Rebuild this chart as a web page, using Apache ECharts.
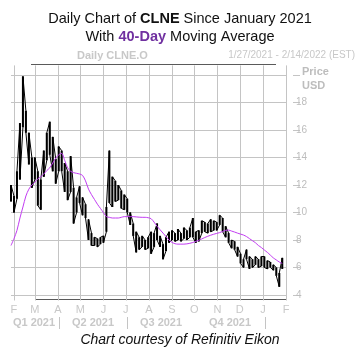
<!DOCTYPE html>
<html>
<head>
<meta charset="utf-8">
<title>CLNE daily chart</title>
<script src="https://cdn.jsdelivr.net/npm/echarts@6/dist/echarts.min.js"></script>
<style>
  html, body { margin: 0; padding: 0; background: #fff; }
  #main { width: 360px; height: 353px; }
</style>
</head>
<body>
<div id="main"></div>
<script>
// sampled trading dates (every 4 days), with the day's low / high and the 40-day MA
var dates = [
  '2021-01-28','2021-02-01','2021-02-05','2021-02-09','2021-02-13','2021-02-17','2021-02-21','2021-02-25',
  '2021-03-01','2021-03-05','2021-03-09','2021-03-13','2021-03-17','2021-03-21','2021-03-25','2021-03-29',
  '2021-04-02','2021-04-06','2021-04-10','2021-04-14','2021-04-18','2021-04-22','2021-04-26','2021-04-30',
  '2021-05-04','2021-05-08','2021-05-12','2021-05-16','2021-05-20','2021-05-24','2021-05-28',
  '2021-06-01','2021-06-05','2021-06-09','2021-06-13','2021-06-17','2021-06-21','2021-06-25','2021-06-29',
  '2021-07-03','2021-07-07','2021-07-11','2021-07-15','2021-07-19','2021-07-23','2021-07-27','2021-07-31',
  '2021-08-04','2021-08-08','2021-08-12','2021-08-16','2021-08-20','2021-08-24','2021-08-28',
  '2021-09-01','2021-09-05','2021-09-09','2021-09-13','2021-09-17','2021-09-21','2021-09-25','2021-09-29',
  '2021-10-03','2021-10-07','2021-10-11','2021-10-15','2021-10-19','2021-10-23','2021-10-27','2021-10-31',
  '2021-11-04','2021-11-08','2021-11-12','2021-11-16','2021-11-20','2021-11-24','2021-11-28',
  '2021-12-02','2021-12-06','2021-12-10','2021-12-14','2021-12-18','2021-12-22','2021-12-26','2021-12-30',
  '2022-01-03','2022-01-07','2022-01-11','2022-01-15','2022-01-19','2022-01-23','2022-01-27'
];
var lows = [
  10.8, 10.0, 11.0, 12.4, 16.2, 15.8, 13.5, 11.8,
  12.4, 10.5, 10.2, 12.6, 13.8, 14.2, 13.0, 12.1,
  13.0, 13.0, 11.5, 10.9, 11.5, 9.2, 10.0, 10.7,
  9.8, 9.6, 8.0, 7.6, 7.6, 7.5, 7.7,
  7.8, 8.6, 10.7, 10.4, 10.8, 10.9, 10.3, 10.2,
  10.0, 9.1, 8.3, 7.1, 7.3, 7.5, 7.3, 7.4,
  7.0, 7.5, 8.0, 7.5, 6.6, 7.2, 7.8,
  8.0, 7.9, 8.0, 7.9, 8.1, 8.0, 8.2, 8.2,
  7.8, 7.9, 8.5, 8.6, 8.5, 8.6, 8.7, 8.7,
  9.1, 8.6, 8.2, 7.8, 7.4, 7.3, 6.8,
  6.3, 6.0, 6.6, 5.9, 6.0, 6.2, 6.0, 6.1,
  6.0, 5.9, 6.0, 5.8, 5.4, 4.6, 5.9
];
var highs = [
  12.0, 11.2, 13.0, 16.5, 19.9, 17.4, 15.8, 14.0,
  14.0, 13.0, 12.4, 14.5, 15.8, 16.6, 15.5, 13.9,
  14.8, 14.5, 13.6, 13.0, 14.1, 11.8, 11.1, 11.9,
  11.1, 10.6, 9.5, 8.5, 8.2, 8.1, 8.2,
  8.3, 10.4, 14.5, 12.6, 12.3, 12.0, 11.6, 11.3,
  11.0, 10.0, 9.2, 8.6, 8.2, 8.3, 8.0, 8.2,
  8.6, 8.5, 9.2, 8.3, 7.7, 8.2, 8.6,
  8.7, 8.5, 8.8, 8.5, 8.9, 8.7, 8.9, 9.6,
  8.6, 8.7, 9.4, 9.3, 9.2, 9.5, 9.4, 9.3,
  9.8, 9.6, 9.0, 8.5, 8.0, 7.9, 7.5,
  7.0, 6.6, 7.3, 6.8, 6.6, 6.8, 6.6, 6.8,
  6.8, 6.5, 6.4, 6.2, 6.0, 5.6, 6.7
];
var ma40 = [
  7.6, 8.1, 8.7, 9.6, 10.4, 11.2, 11.7, 12.0,
  12.2, 12.45, 12.6, 12.8, 13.05, 13.25, 13.6, 13.95,
  14.2, 14.3, 13.8, 13.25, 13.0, 12.9, 12.85, 12.8,
  12.7, 12.3, 11.7, 11.3, 10.95, 10.6, 10.3,
  10.0, 9.7, 9.65, 9.6, 9.6, 9.6, 9.65, 9.7,
  9.7, 9.7, 9.7, 9.68, 9.66, 9.65, 9.65, 9.62,
  9.55, 9.3, 9.0, 8.75, 8.5, 8.25, 8.0,
  7.83, 7.73, 7.7, 7.7, 7.7, 7.72, 7.76, 7.82,
  7.9, 7.98, 8.08, 8.18, 8.27, 8.35, 8.42, 8.48,
  8.54, 8.62, 8.7, 8.72, 8.65, 8.58, 8.5,
  8.43, 8.36, 8.25, 8.1, 7.95, 7.8, 7.6, 7.45,
  7.27, 7.1, 6.9, 6.7, 6.55, 6.4, 6.3
];
var monthTicks = [
  '2021-02-01','2021-03-01','2021-04-01','2021-05-01','2021-06-01','2021-07-01','2021-08-01',
  '2021-09-01','2021-10-01','2021-11-01','2021-12-01','2022-01-01','2022-02-01'
];
var priceTicks = [4, 6, 8, 10, 12, 14, 16, 18, 20];
var priceLabels = [4, 6, 8, 10, 12, 14, 16, 18];
var quarterLabels = [
  { text: 'Q1 2021', x: 34 },
  { text: 'Q2 2021', x: 93 },
  { text: 'Q3 2021', x: 161 },
  { text: 'Q4 2021', x: 230 }
];
var quarterBreaks = [59, 127, 265];

function ts(s) { return echarts.number.parseDate(s).getTime(); }

// high-low bars, plus a zig-zag path linking them
var hlBars = dates.map(function (d, i) { return [ts(d), lows[i], highs[i]]; });
var hlPath = [];
for (var i = 0; i < dates.length; i++) {
  var t = ts(dates[i]);
  if (i % 2 === 0) {
    hlPath.push([t, lows[i]]);
    hlPath.push([t, highs[i]]);
  } else {
    hlPath.push([t, highs[i]]);
    hlPath.push([t, lows[i]]);
  }
}
var maData = dates.map(function (d, i) { return [ts(d), ma40[i]]; });

var grey = '#c4c4c4';
var labelGrey = '#bdbdbd';
var font = 'Liberation Sans, Arial, sans-serif';

var graphics = [
  { type: 'text', left: 77, top: 50, style: { text: 'Daily CLNE.O', fill: '#c8c8c8', font: 'bold 11px ' + font } },
  { type: 'text', right: 5, top: 50, style: { text: '1/27/2021 - 2/14/2022 (EST)', fill: '#c8c8c8', font: '10px ' + font } },
  { type: 'line', shape: { x1: 31, y1: 64.5, x2: 276, y2: 64.5 }, style: { stroke: '#5a5a5a', lineWidth: 1 } },
  { type: 'line', shape: { x1: 35, y1: 299.5, x2: 287, y2: 299.5 }, style: { stroke: '#5a5a5a', lineWidth: 1 } },
  { type: 'text', left: 302, top: 66, style: { text: 'Price', fill: labelGrey, font: 'bold 11px ' + font } },
  { type: 'text', left: 302, top: 80, style: { text: 'USD', fill: labelGrey, font: 'bold 11px ' + font } },
  { type: 'text', left: 'center', top: 333, style: { text: 'Chart courtesy of Refinitiv Eikon', fill: '#111', font: 'italic 14px ' + font } }
];
quarterLabels.forEach(function (q) {
  graphics.push({ type: 'text', x: q.x, y: 323, style: { text: q.text, fill: '#c8c8c8', font: 'bold 11px ' + font, align: 'center', verticalAlign: 'middle' } });
});
quarterBreaks.forEach(function (x) {
  graphics.push({ type: 'line', shape: { x1: x + 0.5, y1: 317, x2: x + 0.5, y2: 329 }, style: { stroke: grey, lineWidth: 1 } });
});

var option = {
  animation: false,
  backgroundColor: '#fff',
  title: {
    left: 'center',
    top: 5,
    text: '{n|Daily Chart of }{b|CLNE}{n| Since January 2021}\n{n|With }{p|40-Day}{n| Moving Average}',
    textStyle: {
      fontWeight: 'normal',
      rich: {
        n: { fontFamily: font, fontSize: 14.5, color: '#111', fontWeight: 'normal', lineHeight: 18 },
        b: { fontFamily: font, fontSize: 14.5, color: '#111', fontWeight: 'bold', lineHeight: 18 },
        p: { fontFamily: font, fontSize: 14.5, color: '#7030a0', fontWeight: 'bold', lineHeight: 18 }
      }
    }
  },
  grid: { left: 11, width: 275, top: 65.4, height: 235.1 },
  xAxis: {
    type: 'value',
    min: ts('2021-01-28'),
    max: ts('2022-02-01'),
    axisLine: { show: false },
    axisTick: { show: false, customValues: monthTicks.map(ts) },
    axisLabel: {
      customValues: monthTicks.map(ts),
      margin: 4,
      color: '#c8c8c8',
      fontFamily: font,
      fontSize: 11,
      formatter: function (v) { return 'JFMAMJJASOND'.charAt(new Date(v).getMonth()); }
    },
    splitLine: { show: true, lineStyle: { color: grey, width: 1 } }
  },
  yAxis: {
    type: 'value',
    position: 'right',
    offset: 7,
    min: 3.6,
    max: 20.7,
    axisLine: { show: false },
    axisTick: { show: true, length: 7, customValues: priceTicks, lineStyle: { color: grey } },
    axisLabel: { customValues: priceLabels, margin: 3, color: labelGrey, fontFamily: font, fontSize: 10 },
    splitLine: { show: true, lineStyle: { color: grey, width: 1 } }
  },
  series: [
    {
      type: 'custom',
      name: 'CLNE.O range',
      data: hlBars,
      encode: { x: 0, y: [1, 2] },
      renderItem: function (params, api) {
        var lo = api.coord([api.value(0), api.value(1)]);
        var hi = api.coord([api.value(0), api.value(2)]);
        return {
          type: 'rect',
          shape: { x: lo[0] - 1, y: hi[1], width: 2, height: Math.max(lo[1] - hi[1], 1) },
          style: { fill: '#000' }
        };
      },
      z: 3
    },
    {
      type: 'line',
      name: 'CLNE.O',
      data: hlPath,
      showSymbol: false,
      lineStyle: { color: '#000', width: 1 },
      z: 3
    },
    {
      type: 'line',
      name: 'MA 40',
      data: maData,
      showSymbol: false,
      smooth: 0.3,
      lineStyle: { color: '#c23cf2', width: 1 },
      z: 4
    }
  ],
  graphic: graphics
};

var chart = echarts.init(document.getElementById('main'));
chart.setOption(option);
</script>
</body>
</html>
